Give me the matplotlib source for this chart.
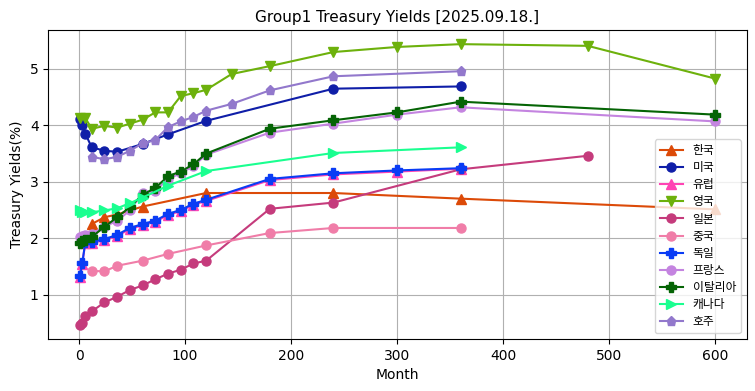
import matplotlib.pyplot as plt

# yields by maturity (months)
kr_m = [12, 24, 36, 60, 120, 240, 360, 600]
kr_y = [2.25, 2.37, 2.42, 2.56, 2.80, 2.80, 2.70, 2.51]

us_m = [1, 3, 6, 12, 24, 36, 60, 84, 120, 240, 360]
us_y = [4.11, 4.00, 3.85, 3.61, 3.55, 3.53, 3.67, 3.84, 4.08, 4.65, 4.69]

eu_m = [1, 3, 6, 12, 24, 36, 48, 60, 72, 84, 96, 108, 120, 180, 240, 300, 360]
eu_y = [1.31, 1.54, 1.92, 1.92, 1.96, 2.04, 2.16, 2.23, 2.29, 2.41, 2.48, 2.59, 2.66, 3.03, 3.13, 3.18, 3.23]

uk_m = [1, 6, 12, 24, 36, 48, 60, 72, 84, 96, 108, 120, 144, 180, 240, 300, 360, 480, 600]
uk_y = [4.13, 4.13, 3.94, 3.99, 3.96, 4.03, 4.10, 4.23, 4.23, 4.52, 4.57, 4.63, 4.91, 5.05, 5.30, 5.39, 5.44, 5.41, 4.83]

jp_m = [1, 3, 6, 12, 24, 36, 48, 60, 72, 84, 96, 108, 120, 180, 240, 360, 480]
jp_y = [0.46, 0.50, 0.62, 0.70, 0.86, 0.96, 1.08, 1.16, 1.27, 1.37, 1.44, 1.55, 1.60, 2.52, 2.63, 3.22, 3.46]

cn_m = [12, 24, 36, 60, 84, 120, 180, 240, 360]
cn_y = [1.42, 1.41, 1.51, 1.60, 1.72, 1.87, 2.09, 2.18, 2.18]

de_m = [1, 3, 6, 12, 24, 36, 48, 60, 72, 84, 96, 108, 120, 180, 240, 300, 360]
de_y = [1.32, 1.55, 1.93, 1.94, 1.98, 2.06, 2.18, 2.25, 2.31, 2.43, 2.50, 2.61, 2.68, 3.05, 3.15, 3.20, 3.24]

fr_m = [1, 3, 6, 12, 24, 36, 48, 60, 72, 84, 96, 108, 120, 180, 240, 300, 360, 600]
fr_y = [2.02, 2.03, 2.05, 2.08, 2.20, 2.31, 2.49, 2.80, 2.84, 3.05, 3.15, 3.28, 3.48, 3.87, 4.03, 4.19, 4.32, 4.07]

it_m = [1, 3, 6, 12, 24, 36, 48, 60, 72, 84, 96, 108, 120, 180, 240, 300, 360, 600]
it_y = [1.92, 1.95, 1.97, 2.02, 2.20, 2.37, 2.55, 2.77, 2.89, 3.10, 3.18, 3.31, 3.50, 3.94, 4.09, 4.23, 4.42, 4.19]

ca_m = [1, 3, 6, 12, 24, 36, 48, 60, 84, 120, 240, 360]
ca_y = [2.50, 2.47, 2.46, 2.46, 2.49, 2.53, 2.62, 2.72, 2.93, 3.19, 3.51, 3.61]

au_m = [12, 24, 36, 48, 60, 72, 84, 96, 108, 120, 144, 180, 240, 360]
au_y = [3.44, 3.40, 3.44, 3.55, 3.68, 3.74, 3.97, 4.07, 4.15, 4.26, 4.38, 4.62, 4.87, 4.96]

series = [
    ('한국', kr_m, kr_y, '^', '#dc4a08'),
    ('미국', us_m, us_y, 'o', '#0f1ea8'),
    ('유럽', eu_m, eu_y, '^', '#ff44b4'),
    ('영국', uk_m, uk_y, 'v', '#6db10c'),
    ('일본', jp_m, jp_y, 'o', '#c53b7c'),
    ('중국', cn_m, cn_y, 'o', '#f07da8'),
    ('독일', de_m, de_y, 'P', '#0a3cf5'),
    ('프랑스', fr_m, fr_y, 'o', '#c484e0'),
    ('이탈리아', it_m, it_y, 'P', '#056405'),
    ('캐나다', ca_m, ca_y, '>', '#1aff90'),
    ('호주', au_m, au_y, 'p', '#9278cc'),
]

fig, ax = plt.subplots(figsize=(7.55, 3.91), dpi=100)
for name, m, y, mk, c in series:
    ax.plot(m, y, marker=mk, color=c, label=name, linewidth=1.5, markersize=6.5)

ax.set_title('Group1 Treasury Yields [2025.09.18.]', fontsize=11)
ax.set_xlabel('Month')
ax.set_ylabel('Treasury Yields(%)')
ax.grid(True)
ax.legend(loc='lower right', prop={'family': ['Noto Sans CJK KR', 'DejaVu Sans'], 'size': 8.5},
          labelspacing=0.35, handlelength=2.0, borderpad=0.4)
fig.subplots_adjust(left=0.064, right=0.989, top=0.923, bottom=0.133)
fig.savefig('out.png')
